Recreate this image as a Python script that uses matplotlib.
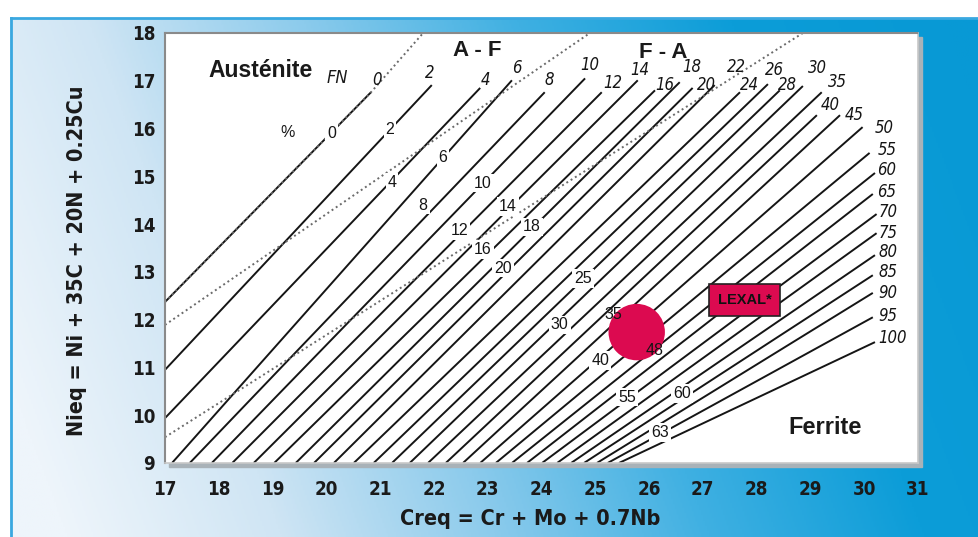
import numpy as np
import matplotlib.pyplot as plt
from matplotlib.colors import LinearSegmentedColormap
from matplotlib.patches import Rectangle

# iso-FN lines (Creq, Nieq): lower end on the frame, upper end under the label
fn_labels = ['0', '2', '4', '6', '8', '10', '12', '14', '16', '18', '20', '22', '24',
             '26', '28', '30', '35', '40', '45', '50', '55', '60', '65', '70', '75',
             '80', '85', '90', '95', '100']
fn_low_x = [17.0, 17.0, 17.0, 17.13, 17.46, 17.87, 18.25, 18.65, 19.03, 19.43, 19.77,
            20.14, 20.51, 20.88, 21.22, 21.55, 21.89, 22.22, 22.54, 22.86, 23.15, 23.45,
            23.73, 24.01, 24.29, 24.55, 24.79, 25.03, 25.23, 25.44]
fn_low_y = [12.37, 10.95, 9.94] + [9.0] * 27
fn_top_x = [20.83, 21.96, 22.86, 23.45, 24.06, 24.81, 25.12, 25.79, 26.11, 26.57, 26.81,
            27.22, 27.69, 28.21, 28.43, 28.86, 29.21, 29.12, 29.55, 29.97, 30.10, 30.20,
            30.16, 30.23, 30.23, 30.20, 30.16, 30.16, 30.16, 30.20]
fn_top_y = [16.76, 16.91, 16.85, 17.01, 16.76, 17.05, 16.76, 17.01, 16.80, 16.97, 16.85,
            16.91, 16.76, 16.93, 16.80, 16.89, 16.76, 16.28, 16.28, 16.03, 15.49, 15.07,
            14.63, 14.21, 13.81, 13.35, 12.93, 12.56, 12.05, 11.53]
fn_lab_x = [20.94, 21.93, 22.95, 23.54, 24.15, 24.90, 25.33, 25.83, 26.29, 26.80, 27.07,
            27.63, 27.87, 28.34, 28.58, 29.14, 29.51, 29.36, 29.82, 30.38, 30.42, 30.42,
            30.42, 30.44, 30.44, 30.44, 30.44, 30.44, 30.44, 30.53]
fn_lab_y = [17.01, 17.16, 17.01, 17.26, 17.01, 17.33, 16.95, 17.22, 16.91, 17.28, 16.91,
            17.28, 16.91, 17.22, 16.91, 17.26, 16.97, 16.49, 16.28, 16.01, 15.55, 15.13,
            14.67, 14.25, 13.81, 13.41, 12.99, 12.56, 12.08, 11.62]

# ferrite % marks written across the lines
pct_labels = ['0', '2', '4', '6', '8', '10', '12', '14', '16', '18', '20', '25', '30',
              '35', '40', '48', '55', '60', '63']
pct_x = [20.10, 21.18, 21.22, 22.17, 21.80, 22.91, 22.48, 23.38, 22.91, 23.82, 23.28,
         24.77, 24.34, 25.33, 25.09, 26.11, 25.59, 26.61, 26.20]
pct_y = [15.90, 15.97, 14.88, 15.40, 14.40, 14.86, 13.87, 14.36, 13.46, 13.94, 13.08,
         12.87, 11.89, 12.10, 11.15, 11.36, 10.38, 10.46, 9.63]

# phase boundaries A / A-F, A-F / F-A, F-A / F
bound_x = [(17.0, 20.83, 21.80), (17.0, 24.90), (17.0, 28.86)]
bound_y = [(12.37, 16.76, 18.0), (11.89, 18.0), (9.54, 18.0)]

lexal_x, lexal_y = 25.77, 11.74

W, H = 979, 537
fig = plt.figure(figsize=(W / 100, H / 100), dpi=100)

# gradient panel behind the chart
bg = fig.add_axes([0, 0, 1, 1])
bg.set_xlim(0, W)
bg.set_ylim(H, 0)
bg.axis('off')
gx, gy = np.meshgrid(np.linspace(0, 1, 500), np.linspace(0, 1, 300))
u = np.clip(0.9 * gx + 0.18 * (1 - gy) - 0.05, 0, 1)
panel = LinearSegmentedColormap.from_list(
    'panel', ['#eef5fb', '#cfe5f4', '#8ccbec', '#3fb0e2', '#0c9dd8', '#0899d5'])
bg.imshow(u, cmap=panel, extent=(10, W, H, 18), aspect='auto', zorder=0)
bg.plot([11, 11], [H, 18], color='#3aa8e0', lw=2, zorder=1)
bg.plot([11, W], [18, 18], color='#3aa8e0', lw=2, zorder=1)
bg.add_patch(Rectangle((169, 37), 753, 430, color='#a9b2b8', zorder=1))

ax = fig.add_axes([165 / W, (H - 463) / H, (918 - 165) / W, (463 - 33) / H])
ax.set_xlim(17, 31)
ax.set_ylim(9, 18)
ax.set_facecolor('white')
for s in ['left', 'top']:
    ax.spines[s].set_color('#8a8a8a')
    ax.spines[s].set_linestyle((0, (1, 1)))
    ax.spines[s].set_linewidth(1.5)
for s in ['right', 'bottom']:
    ax.spines[s].set_color('#c8c8c8')
    ax.spines[s].set_linewidth(1.2)

tick_font = dict(family='DejaVu Sans', stretch='condensed', weight='bold', size=13.5)
ax.set_xticks(range(17, 32))
ax.set_yticks(range(9, 19))
ax.set_xticklabels([str(v) for v in range(17, 32)], fontdict=tick_font)
ax.set_yticklabels([str(v) for v in range(9, 19)], fontdict=tick_font)
ax.tick_params(length=0, colors='#1a1a1a')
ax.tick_params(axis='x', pad=12)
ax.tick_params(axis='y', pad=7)

label_font = dict(family='DejaVu Sans', stretch='condensed', weight='bold', size=15.5)
ax.set_xlabel('Creq = Cr + Mo + 0.7Nb', fontdict=label_font, color='#1a1a1a')
ax.set_ylabel('Nieq = Ni + 35C + 20N + 0.25Cu', fontdict=label_font, color='#1a1a1a')
ax.xaxis.set_label_coords(0.485, -0.108)
ax.yaxis.set_label_coords(-0.104, 0.47)

fn_font = dict(family='DejaVu Sans', stretch='condensed', style='italic', size=12)
for i in range(len(fn_labels)):
    ax.plot([fn_low_x[i], fn_top_x[i]], [fn_low_y[i], fn_top_y[i]],
            color='#151515', lw=1.4, solid_capstyle='butt', zorder=2)
    ax.text(fn_lab_x[i], fn_lab_y[i], fn_labels[i], ha='center', va='center',
            fontdict=fn_font, color='#151515', zorder=4)

for bx, by in zip(bound_x, bound_y):
    ax.plot(bx, by, color='#6a6a6a', lw=1.4, linestyle=(0, (1, 1.6)), zorder=2.5)

ax.scatter([lexal_x], [lexal_y], s=1650, color='#dc0a50', edgecolors='none', zorder=5)

for lab, px, py in zip(pct_labels, pct_x, pct_y):
    if lab in ('35', '48'):
        ax.text(px, py, lab, ha='center', va='center', fontsize=11.5,
                family='Liberation Sans', color='#151515', zorder=6)
    else:
        ax.text(px, py, lab, ha='center', va='center', fontsize=11.5,
                family='Liberation Sans', color='#151515', zorder=3,
                bbox=dict(boxstyle='square,pad=0.12', fc='white', ec='none'))

ax.text(27.78, 12.41, 'LEXAL*', ha='center', va='center', fontsize=10.5, weight='bold',
        family='Liberation Sans', color='#111111', zorder=6,
        bbox=dict(boxstyle='square,pad=0.6', fc='#dc0a50', ec='#222222', lw=1.2))

ax.text(18.77, 17.22, 'Austénite', ha='center', va='center', fontsize=16.5,
        weight='bold', family='Liberation Sans', color='#1a1a1a', zorder=4)
ax.text(22.80, 17.64, 'A - F', ha='center', va='center', fontsize=16,
        weight='bold', family='Liberation Sans', color='#1a1a1a', zorder=4)
ax.text(26.26, 17.60, 'F - A', ha='center', va='center', fontsize=16,
        weight='bold', family='Liberation Sans', color='#1a1a1a', zorder=4)
ax.text(29.27, 9.75, 'Ferrite', ha='center', va='center', fontsize=17,
        weight='bold', family='Liberation Sans', color='#1a1a1a', zorder=4)
ax.text(20.20, 17.05, 'FN', ha='center', va='center', fontsize=13, style='italic',
        family='DejaVu Sans', stretch='condensed', color='#1a1a1a', zorder=4)
ax.text(19.27, 15.92, '%', ha='center', va='center', fontsize=11.5,
        family='Liberation Sans', color='#1a1a1a', zorder=4)

fig.savefig('out.png', dpi=100)
